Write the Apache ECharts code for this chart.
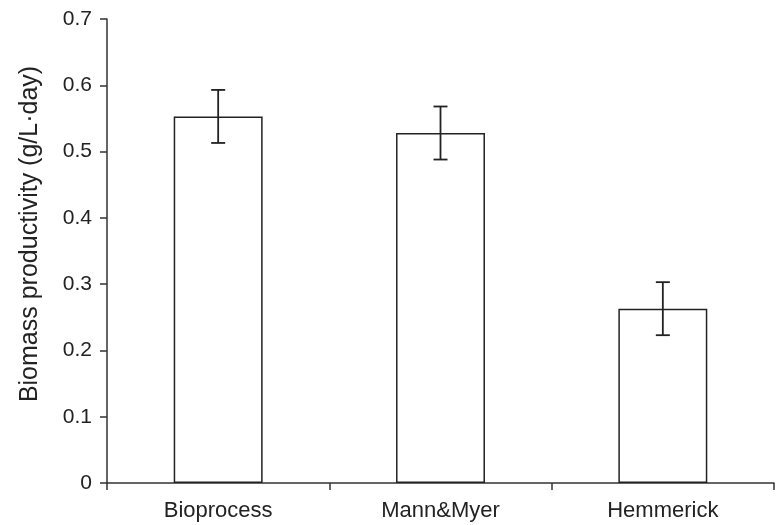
<!DOCTYPE html>
<html>
<head>
<meta charset="utf-8">
<script src="https://cdn.jsdelivr.net/npm/echarts@6/dist/echarts.min.js"></script>
<style>html,body{margin:0;padding:0;background:#fff}#c{width:778px;height:525px}</style>
</head>
<body>
<div id="c"></div>
<script>
const categories = ['Bioprocess', 'Mann&Myer', 'Hemmerick'];
const productivity = [0.553, 0.528, 0.263];
const errorHalf = [0.04, 0.04, 0.04];
const yTicks = [0, 0.1, 0.2, 0.3, 0.4, 0.5, 0.6, 0.7];

const errData = categories.map((c, i) => [i, productivity[i] - errorHalf[i], productivity[i] + errorHalf[i]]);

const chart = echarts.init(document.getElementById('c'), null, {renderer: 'canvas'});
const axisColor = '#333';
const font = 'Liberation Sans, Arial, sans-serif';
chart.setOption({
  animation: false,
  backgroundColor: '#fff',
  grid: {left: 107, right: 4, top: 19, bottom: 42},
  xAxis: {
    type: 'category',
    data: categories,
    boundaryGap: true,
    axisLine: {lineStyle: {color: axisColor, width: 1.5}},
    axisTick: {show: true, length: 7, inside: false, lineStyle: {color: axisColor, width: 1.5}},
    axisLabel: {color: '#222', fontSize: 22, fontFamily: font, margin: 17}
  },
  yAxis: {
    type: 'value',
    min: yTicks[0],
    max: yTicks[yTicks.length - 1],
    interval: 0.1,
    name: 'Biomass productivity (g/L·day)',
    nameLocation: 'middle',
    nameGap: 64,
    nameTextStyle: {color: '#222', fontSize: 25, fontFamily: font, padding: [0, 0, 0, 34]},
    splitLine: {show: false},
    axisLine: {show: true, lineStyle: {color: axisColor, width: 1.5}},
    axisTick: {show: true, length: 7, lineStyle: {color: axisColor, width: 1.5}},
    axisLabel: {color: '#222', fontSize: 21, fontFamily: font, margin: 15,
      formatter: v => (Math.round(v * 10) / 10).toString()}
  },
  series: [
    {
      type: 'bar',
      data: productivity,
      barWidth: '40%',
      itemStyle: {color: '#fff', borderColor: '#222', borderWidth: 1.5}
    },
    {
      type: 'custom',
      data: errData,
      z: 10,
      renderItem: function (params, api) {
        const x = api.value(0);
        const lo = api.coord([x, api.value(1)]);
        const hi = api.coord([x, api.value(2)]);
        const cap = 7;
        const style = {stroke: '#222', lineWidth: 1.8};
        return {
          type: 'group',
          children: [
            {type: 'line', shape: {x1: hi[0], y1: hi[1], x2: lo[0], y2: lo[1]}, style: style},
            {type: 'line', shape: {x1: hi[0] - cap, y1: hi[1], x2: hi[0] + cap, y2: hi[1]}, style: style},
            {type: 'line', shape: {x1: lo[0] - cap, y1: lo[1], x2: lo[0] + cap, y2: lo[1]}, style: style}
          ]
        };
      }
    }
  ]
});
</script>
</body>
</html>
